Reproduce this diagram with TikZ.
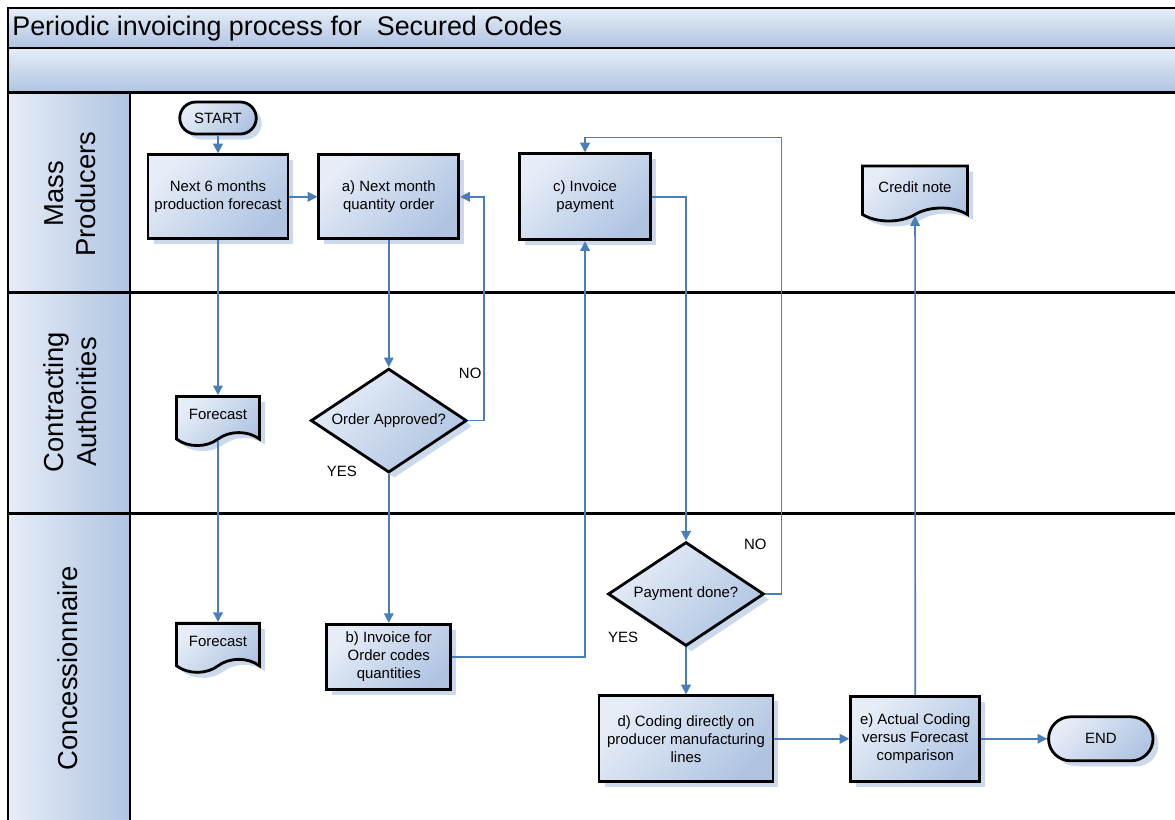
\documentclass[tikz,border=0pt]{standalone}
\usepackage{fontspec}
\setmainfont{Liberation Sans}
\usetikzlibrary{positioning,arrows.meta,shapes.geometric,shapes.misc,shapes.symbols,shadows}

\definecolor{fillhi}{HTML}{E6EDF7}
\definecolor{filllo}{HTML}{B0C4E2}
\definecolor{flowblue}{HTML}{4A7EBB}
\definecolor{shadeblue}{HTML}{CCD8EC}

\begin{document}
\begin{tikzpicture}[x=0.02cm, y=-0.02cm,
  box/.style={draw, line width=1.6pt, top color=fillhi, bottom color=filllo,
              shading angle=45,
              drop shadow={fill=shadeblue, opacity=1, shadow xshift=1.1mm,
                           shadow yshift=-1.1mm},
              align=center, inner sep=1pt, font=\fontsize{8.5}{10.2}\selectfont},
  proc/.style={box, rectangle},
  term/.style={box, rounded rectangle, minimum width=16mm, minimum height=6.4mm},
  decision/.style={box, diamond, aspect=1.5, minimum width=31.2mm,
                   minimum height=20.8mm, inner sep=0pt},
  doc/.style={box, tape, tape bend top=none, tape bend bottom=in and out,
              tape bend height=2.6mm, minimum width=16.6mm, minimum height=9.8mm},
  flow/.style={draw=flowblue, line width=0.9pt, -{Triangle[length=5.5pt, width=5.5pt]}},
  lbl/.style={font=\fontsize{8.5}{10.2}\selectfont},
  lane/.style={line width=1.7pt},
  lanename/.style={rotate=90, align=center, font=\fontsize{15.6}{18.5}\selectfont},
]
  \useasboundingbox (0,0) rectangle (1175,819);
  \clip (0,0) rectangle (1175,819);

  % Pool header and lane frame
  \path[draw, line width=0.8pt, top color=fillhi, bottom color=filllo]
    (8,8) rectangle (1190,48);
  \node[anchor=west, inner sep=0pt, font=\fontsize{15.3}{18}\selectfont] (title)
    at (12,29) {Periodic invoicing process for\ \ Secured Codes};
  \path[draw, line width=1.2pt, top color=fillhi, bottom color=filllo]
    (8,48) rectangle (1190,92);
  \path[left color=fillhi, right color=filllo] (8,92) rectangle (130,292);
  \path[left color=fillhi, right color=filllo] (8,292) rectangle (130,513);
  \path[left color=fillhi, right color=filllo] (8,513) rectangle (130,830);
  \draw[lane] (8,92) -- (1190,92);
  \draw[lane] (8,292) -- (1190,292);
  \draw[lane] (8,513) -- (1190,513);
  \draw[lane] (130,92) -- (130,830);
  \draw[line width=1.2pt] (8,8) -- (8,830);

  % Lane names
  \node[lanename] (mass) at (70,194) {Mass\\Producers};
  \node[lanename] (auth) at (70,402) {Contracting\\Authorities};
  \node[lanename] (conc) at (68,668) {Concessionnaire};

  % Mass Producers lane
  \node[term] (start) at (218,118) {START};
  \node[proc, minimum width=28mm, minimum height=16.8mm, below=3.6mm of start]
    (fcast6) {Next 6 months\\production forecast};
  \node[proc, minimum width=28mm, minimum height=16.8mm, right=5.6mm of fcast6]
    (order) {a) Next month\\quantity order};
  \node[proc, minimum width=26.2mm, minimum height=17.2mm, right=11.6mm of order]
    (payment) {c) Invoice\\payment};
  \node[doc, minimum width=21mm, minimum height=11mm] (credit) at (915,187)
    {Credit note};

  % Contracting Authorities lane
  \node[doc, below=31mm of fcast6] (fcastA) {Forecast};
  \node[decision, below=25.4mm of order] (approved) {Order Approved?};

  % Concessionnaire lane
  \node[doc, below=37.6mm of fcastA] (fcastB) {Forecast};
  \node[proc, minimum width=24.8mm, minimum height=13mm, below=29.8mm of approved]
    (invoice) {b) Invoice for\\Order codes\\quantities};
  \node[decision] (paydone) at (686,594) {Payment done?};
  \node[proc, minimum width=34.8mm, minimum height=17.2mm, below=9.4mm of paydone]
    (coding) {d) Coding directly on\\producer manufacturing\\lines};
  \node[proc, minimum width=25.8mm, minimum height=17mm, right=15mm of coding]
    (compare) {e) Actual Coding\\versus Forecast\\comparison};
  \node[term, minimum width=21.6mm, minimum height=8.8mm, right=13.2mm of compare]
    (finish) {END};

  % Flow connectors
  \draw[flow] (start) -- (fcast6);
  \draw[flow] (fcast6) -- (order);
  \draw[flow] (fcast6) -- (fcastA);
  \draw[flow] (fcastA) -- (fcastB);
  \draw[flow] (order) -- (approved);
  \draw[flow] (approved.east) -- ++(16,0) |- (order.east);
  \draw[flow] (approved) -- (invoice);
  \draw[flow] (invoice.east) -| (payment.south);
  \draw[flow] (payment.east) -| (paydone.north);
  \coordinate (turn) at ([xshift=3.2mm]paydone.east);
  \coordinate (loop) at ([yshift=3mm]payment.north);
  \draw[flow, line width=1pt] (paydone.east) -- (turn) |- (loop) -- (payment.north);
  \draw[flow] (paydone) -- (coding);
  \draw[flow] (coding) -- (compare);
  \draw[flow] (compare) -- (credit);
  \draw[flow] (compare) -- (finish);

  % Decision labels
  \node[lbl] (noA) at ([xshift=0.4mm, yshift=9.4mm]approved.east) {NO};
  \node[lbl] (yesA) at ([xshift=-9.4mm, yshift=0.6mm]approved.south) {YES};
  \node[lbl] (noB) at ([xshift=-2mm, yshift=10mm]paydone.east) {NO};
  \node[lbl] (yesB) at ([xshift=-12.6mm, yshift=2mm]paydone.south) {YES};
\end{tikzpicture}
\end{document}
